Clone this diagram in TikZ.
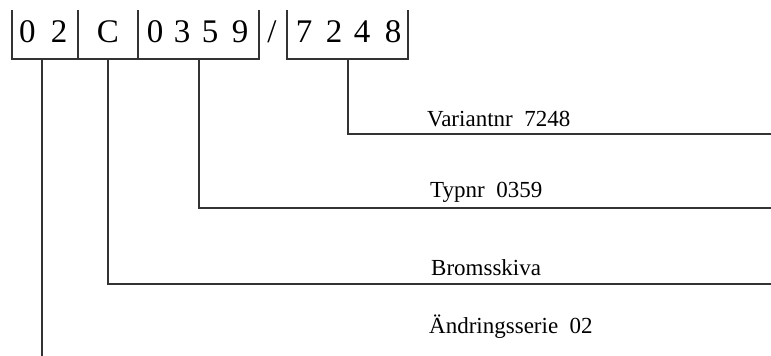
\documentclass[tikz,border=0pt]{standalone}
\usepackage{fontspec}
\setmainfont{Liberation Serif}
\begin{document}
\begin{tikzpicture}[x=1pt,y=-1pt,
  rule/.style={line width=1.3pt,draw=black!80},
  glyph/.style={anchor=base,inner sep=0pt,font=\fontsize{33}{33}\selectfont},
  caption/.style={anchor=base west,inner sep=0pt,font=\fontsize{23}{23}\selectfont}]
\useasboundingbox (0,0) rectangle (771,356);

% bracket outlines of the code fields
\draw[rule] (12,10) -- (12,59) -- (259,59) -- (259,10);
\draw[rule] (78,10) -- (78,59);
\draw[rule] (138,10) -- (138,59);
\draw[rule] (287,10) -- (287,59) -- (408,59) -- (408,10);

% characters of the code
\node[glyph] (a1) at (27.5,42) {0};
\node[glyph] (a2) at (59,42) {2};
\node[glyph] (b1) at (108,42) {C};
\node[glyph] (t1) at (155,42) {0};
\node[glyph] (t2) at (182,42) {3};
\node[glyph] (t3) at (210,42) {5};
\node[glyph] (t4) at (240,42) {9};
\node[glyph] (sl) at (272,42) {/};
\node[glyph] (v1) at (304,42) {7};
\node[glyph] (v2) at (334,42) {2};
\node[glyph] (v3) at (362,42) {4};
\node[glyph] (v4) at (393,42) {8};

% drop points under each field and free ends of the leaders
\coordinate (dV) at (348,59);
\coordinate (dT) at (199,59);
\coordinate (dB) at (108,59);
\coordinate (dA) at (42,59);
\coordinate (eV) at (771,134);
\coordinate (eT) at (771,208);
\coordinate (eB) at (771,284);
\coordinate (eA) at (42,356);

\draw[rule] (dV) |- (eV);
\draw[rule] (dT) |- (eT);
\draw[rule] (dB) |- (eB);
\draw[rule] (dA) -- (eA);

% captions
\node[caption] (lV) at (427,126) {Variantnr\ \ 7248};
\node[caption] (lT) at (430,197) {Typnr\ \ 0359};
\node[caption] (lB) at (431,275) {Bromsskiva};
\node[caption] (lA) at (429,333) {Ändringsserie\ \ 02};
\end{tikzpicture}
\end{document}
